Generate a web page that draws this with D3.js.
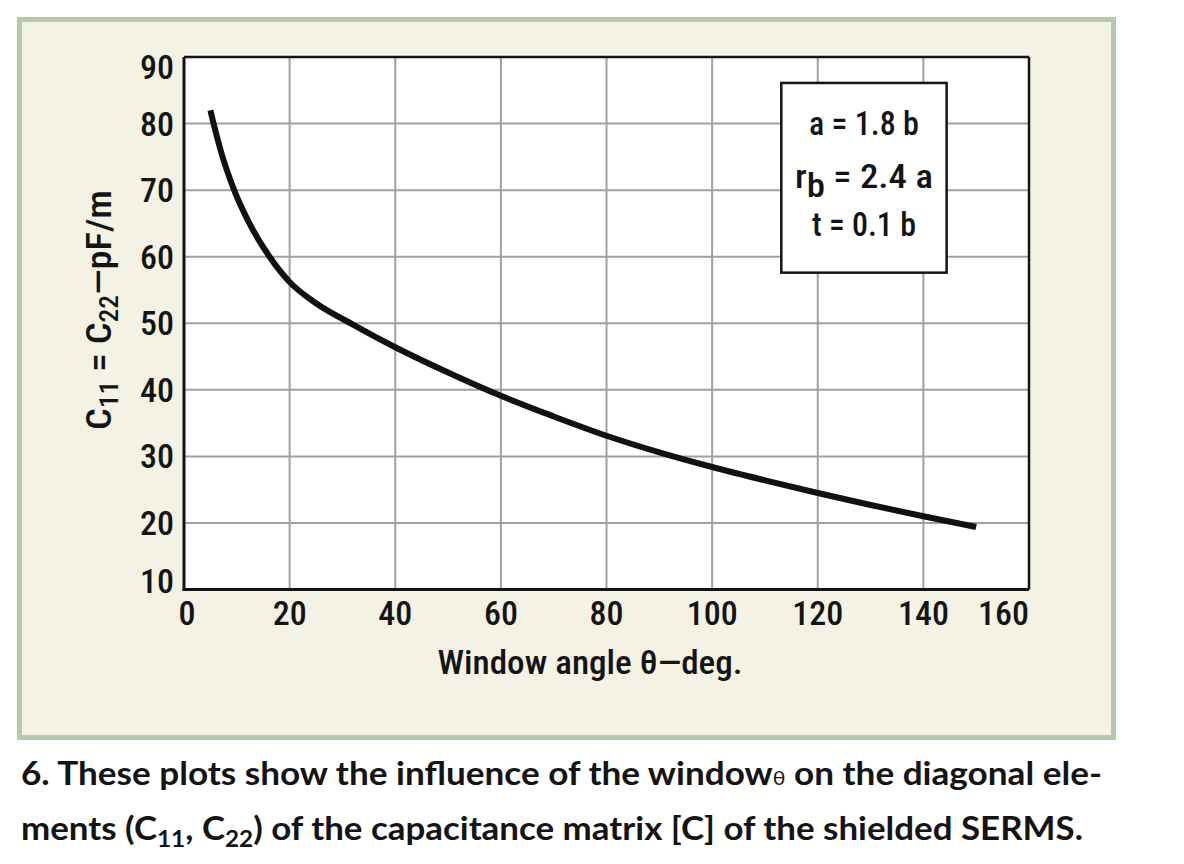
<!DOCTYPE html>
<html>
<head>
<meta charset="utf-8">
<script src="https://cdn.jsdelivr.net/npm/d3@7"></script>
<style>
  html, body { margin: 0; padding: 0; background: #ffffff; }
  svg { display: block; }
  .cond { font-family: "Liberation Sans Narrow", "Roboto Condensed", "DejaVu Sans Condensed", sans-serif; font-weight: 500; }
  .cap { font-family: "Lato", "Open Sans", sans-serif; font-weight: 700; }
</style>
</head>
<body>
<svg id="chart" width="1184" height="864"></svg>
<script>
// ---- data ----
const windowAngle = [5, 5.6, 7, 9.5, 12, 16.2, 20, 25, 32, 40, 50, 60, 70, 80, 90, 100, 110, 120, 130, 140, 150];
const capacitance = [82, 80, 75.8, 70, 65.6, 60, 56.2, 53, 49.8, 46.4, 42.6, 39.1, 36, 33.1, 30.6, 28.4, 26.4, 24.5, 22.7, 21, 19.4];
const xTicks = [0, 20, 40, 60, 80, 100, 120, 140, 160];
const yTicks = [10, 20, 30, 40, 50, 60, 70, 80, 90];
const paramLines = ["a = 1.8 b", "r_b = 2.4 a", "t = 0.1 b"];
const xTitle = "Window angle \u03B8\u2014deg.";

const svg = d3.select("#chart");
const ink = "#141414";

// panel
svg.append("rect").attr("x", 19.5).attr("y", 19.5).attr("width", 1094).attr("height", 718)
  .attr("fill", "#f3f2e4").attr("stroke", "#b6c9ad").attr("stroke-width", 5);

const x = d3.scaleLinear().domain([0, 160]).range([184, 1029]);
const y = d3.scaleLinear().domain([10, 90]).range([589.5, 57]);

const g = svg.append("g");

// plot background
g.append("rect").attr("x", x(0)).attr("y", y(90)).attr("width", x(160) - x(0)).attr("height", y(10) - y(90))
  .attr("fill", "#ffffff");

// grid
g.selectAll("line.vg").data(xTicks.filter(d => d > 0 && d < 160)).join("line")
  .attr("class", "vg").attr("x1", d => x(d)).attr("x2", d => x(d)).attr("y1", y(90)).attr("y2", y(10))
  .attr("stroke", "#a0a0a0").attr("stroke-width", 2);
g.selectAll("line.hg").data(yTicks.filter(d => d > 10 && d < 90)).join("line")
  .attr("class", "hg").attr("y1", d => y(d)).attr("y2", d => y(d)).attr("x1", x(0)).attr("x2", x(160))
  .attr("stroke", "#a0a0a0").attr("stroke-width", 2);

// frame
g.append("line").attr("x1", x(0)).attr("x2", x(160)).attr("y1", y(90)).attr("y2", y(90)).attr("stroke", ink).attr("stroke-width", 2.5);
g.append("line").attr("x1", x(160)).attr("x2", x(160)).attr("y1", y(90)).attr("y2", y(10)).attr("stroke", ink).attr("stroke-width", 2.5);

// curve
const line = d3.line().x((d, i) => x(windowAngle[i])).y(d => y(d)).curve(d3.curveMonotoneX);
g.append("path").datum(capacitance).attr("d", line)
  .attr("fill", "none").attr("stroke", "#111111").attr("stroke-width", 6).attr("stroke-linecap", "butt");

// axes
g.append("line").attr("x1", x(0)).attr("x2", x(0)).attr("y1", y(90)).attr("y2", y(10) + 1.5).attr("stroke", ink).attr("stroke-width", 3);
g.append("line").attr("x1", x(0) - 1.5).attr("x2", x(160)).attr("y1", y(10)).attr("y2", y(10)).attr("stroke", ink).attr("stroke-width", 3);

// tick labels
const tickFont = 34;
g.selectAll("text.xt").data(xTicks).join("text")
  .attr("class", "xt cond")
  .attr("x", d => d === 0 ? x(d) + 3 : x(d))
  .attr("y", 625)
  .attr("text-anchor", d => d === 160 ? "end" : "middle")
  .attr("font-size", tickFont).attr("fill", ink)
  .text(d => d);

g.selectAll("text.yt").data(yTicks).join("text")
  .attr("class", "yt cond")
  .attr("x", 174)
  .attr("y", d => y(d) + 12 + (d === 90 ? 10 : 0) + (d === 10 ? -9 : 0))
  .attr("text-anchor", "end")
  .attr("font-size", tickFont).attr("fill", ink)
  .text(d => d);

// axis titles
g.append("text").attr("class", "cond").attr("x", 590).attr("y", 674).attr("text-anchor", "middle")
  .attr("font-size", 34).attr("fill", ink)
  .attr("textLength", 305).attr("lengthAdjust", "spacingAndGlyphs")
  .text(xTitle);

const yt = g.append("text").attr("class", "cond")
  .attr("transform", "translate(111,310) rotate(-90)")
  .attr("text-anchor", "middle").attr("font-size", 35).attr("fill", ink)
  .attr("textLength", 240).attr("lengthAdjust", "spacingAndGlyphs");
yt.append("tspan").text("C");
yt.append("tspan").attr("font-size", 25).attr("dy", 7).text("11");
yt.append("tspan").attr("dy", -7).text(" = C");
yt.append("tspan").attr("font-size", 25).attr("dy", 7).text("22");
yt.append("tspan").attr("dy", -7).text("\u2014pF/m");

// parameter box
const bx0 = x(113.1), bx1 = x(144.4), by0 = y(86.1), by1 = y(57.6);
g.append("rect").attr("x", bx0).attr("y", by0).attr("width", bx1 - bx0).attr("height", by1 - by0)
  .attr("fill", "#ffffff").attr("stroke", ink).attr("stroke-width", 2.5);
const bcx = (bx0 + bx1) / 2;
const baselines = [135, 188, 236];
const widths = [110, 138, 104];
paramLines.forEach((s, i) => {
  const t = g.append("text").attr("class", "cond").attr("x", bcx).attr("y", baselines[i])
    .attr("text-anchor", "middle").attr("font-size", 33).attr("fill", ink)
    .attr("textLength", widths[i]).attr("lengthAdjust", "spacingAndGlyphs");
  if (s.startsWith("r_b")) {
    t.append("tspan").text("r");
    t.append("tspan").attr("dy", 9).text("b");
    t.append("tspan").attr("dy", -9).text(" = 2.4 a");
  } else {
    t.text(s);
  }
});

// caption
const c1 = svg.append("text").attr("class", "cap").attr("x", 21).attr("y", 785)
  .attr("font-size", 33).attr("fill", ink)
  .attr("textLength", 1081).attr("lengthAdjust", "spacingAndGlyphs");
c1.append("tspan").text("6. These plots show the influence of the window");
c1.append("tspan").attr("font-size", 20).attr("font-weight", 400).text("\u03B8");
c1.append("tspan").text(" on the diagonal ele-");

const c2 = svg.append("text").attr("class", "cap").attr("x", 21).attr("y", 840)
  .attr("font-size", 33).attr("fill", ink)
  .attr("textLength", 1062).attr("lengthAdjust", "spacingAndGlyphs");
c2.append("tspan").text("ments (C");
c2.append("tspan").attr("font-size", 23).attr("dy", 7).text("11");
c2.append("tspan").attr("dy", -7).text(", C");
c2.append("tspan").attr("font-size", 23).attr("dy", 7).text("22");
c2.append("tspan").attr("dy", -7).text(") of the capacitance matrix [C] of the shielded SERMS.");
</script>
</body>
</html>
